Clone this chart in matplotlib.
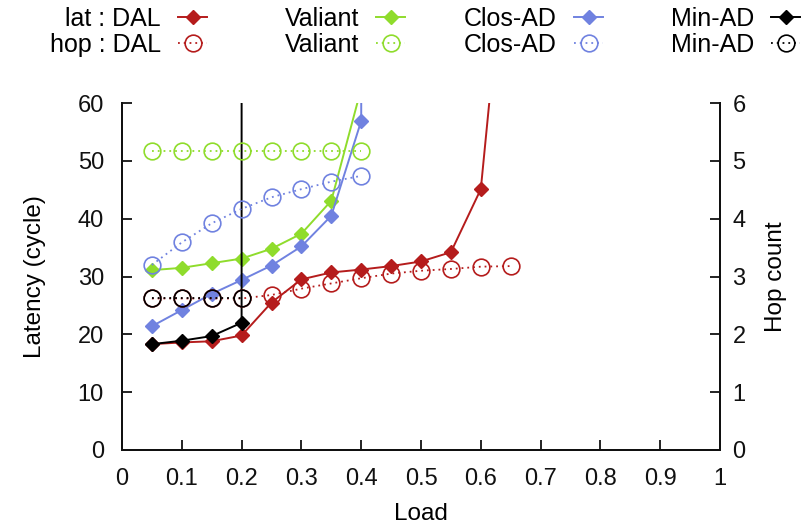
import matplotlib
matplotlib.use("Agg")
import matplotlib.pyplot as plt

plt.rcParams['font.family'] = ['Liberation Sans', 'DejaVu Sans']

# Data
load_dal = [0.05, 0.1, 0.15, 0.2, 0.25, 0.3, 0.35, 0.4, 0.45, 0.5, 0.55, 0.6, 0.65]
lat_dal = [18.3, 18.6, 18.8, 19.8, 25.5, 29.5, 30.7, 31.2, 31.8, 32.6, 34.2, 45.1, 98.0]
hop_dal = [2.62, 2.62, 2.62, 2.62, 2.68, 2.79, 2.88, 2.97, 3.05, 3.10, 3.13, 3.17, 3.18]

load_val = [0.05, 0.1, 0.15, 0.2, 0.25, 0.3, 0.35, 0.4]
lat_val = [31.1, 31.5, 32.3, 33.1, 34.8, 37.4, 43.1, 62.5]
hop_val = [5.17, 5.17, 5.17, 5.17, 5.17, 5.17, 5.17, 5.17]

load_clos = [0.05, 0.1, 0.15, 0.2, 0.25, 0.3, 0.35, 0.4, 0.45]
lat_clos = [21.4, 24.2, 27.0, 29.4, 31.9, 35.2, 40.5, 56.9, 3000.0]
load_clos_hop = [0.05, 0.1, 0.15, 0.2, 0.25, 0.3, 0.35, 0.4]
hop_clos = [3.20, 3.59, 3.92, 4.17, 4.37, 4.51, 4.64, 4.74]

load_min = [0.05, 0.1, 0.15, 0.2, 0.25]
lat_min = [18.3, 18.9, 19.7, 22.0, 100000.0]
load_min_hop = [0.05, 0.1, 0.15, 0.2]
hop_min = [2.62, 2.62, 2.62, 2.62]

xticks = [0, 0.1, 0.2, 0.3, 0.4, 0.5, 0.6, 0.7, 0.8, 0.9, 1]
xticklabels = ['0', '0.1', '0.2', '0.3', '0.4', '0.5', '0.6', '0.7', '0.8', '0.9', '1']
yticks_lat = [0, 10, 20, 30, 40, 50, 60]
yticks_hop = [0, 1, 2, 3, 4, 5, 6]

c_dal = '#b51c1c'
c_val = '#8fdc2c'
c_clos = '#7082e0'
c_min = '#000000'

FS = 17
LFS = 18
fig = plt.figure(figsize=(8.05, 5.27), dpi=100)
ax = fig.add_axes([122/805, 77/527, 598/805, 347/527])
ax2 = ax.twinx()

dot = (0, (1, 2.2))
dms = 7.5
cms = 12

l1, = ax.plot(load_dal, lat_dal, '-', color=c_dal, marker='D', ms=dms, lw=1.4, label='lat : DAL')
l3, = ax.plot(load_val, lat_val, '-', color=c_val, marker='D', ms=dms, lw=1.4, label='Valiant')
l5, = ax.plot(load_clos, lat_clos, '-', color=c_clos, marker='D', ms=dms, lw=1.4, label='Clos-AD')
l7, = ax.plot(load_min, lat_min, '-', color=c_min, marker='D', ms=dms, lw=1.4, label='Min-AD')

l2, = ax2.plot(load_dal, hop_dal, linestyle=dot, color=c_dal, marker='o', ms=cms, mfc='none', mew=1.2, lw=1.3, label='hop : DAL')
l4, = ax2.plot(load_val, hop_val, linestyle=dot, color=c_val, marker='o', ms=cms, mfc='none', mew=1.2, lw=1.3, label='Valiant')
l6, = ax2.plot(load_clos_hop, hop_clos, linestyle=dot, color=c_clos, marker='o', ms=cms, mfc='none', mew=1.2, lw=1.3, label='Clos-AD')
l8, = ax2.plot(load_min_hop, hop_min, linestyle=dot, color=c_min, marker='o', ms=cms, mfc='none', mew=1.2, lw=1.3, label='Min-AD')

ax.set_xlim(0, 1)
ax.set_ylim(0, 60)
ax2.set_ylim(0, 6)
ax.set_xticks(xticks)
ax.set_xticklabels(xticklabels)
ax.set_yticks(yticks_lat)
ax2.set_yticks(yticks_hop)

for a in (ax, ax2):
    a.spines['top'].set_visible(False)
    for s in a.spines.values():
        s.set_linewidth(1.4)
        s.set_color('#111111')
ax.tick_params(axis='both', direction='in', length=7.5, width=1.3, labelsize=FS, colors='#111111')
ax.tick_params(axis='y', pad=13, right=False)
ax.tick_params(axis='x', pad=13, top=False)
ax2.tick_params(axis='y', direction='in', length=7.5, width=1.3, labelsize=FS, pad=9, colors='#111111')

ax.set_xlabel('Load', fontsize=17.5, labelpad=9)
ax.set_ylabel('Latency (cycle)', fontsize=17.5, labelpad=23)
ax2.set_ylabel('Hop count', fontsize=17.5, rotation=90, labelpad=14)

# legend: one column per scheme, text right-aligned before the sample
pairs = [(l1, l2), (l3, l4), (l5, l6), (l7, l8)]
col_right = [207, 405, 603, 800]
for (ha, hb), xr in zip(pairs, col_right):
    leg = fig.legend(handles=[ha, hb], labels=[ha.get_label(), hb.get_label()], ncol=1,
                     loc='upper right', bbox_to_anchor=(xr/805, (527-7)/527), frameon=False,
                     markerfirst=False, fontsize=LFS, handlelength=1.16, handletextpad=0.68,
                     labelspacing=0.08, borderpad=0.0, borderaxespad=0)

fig.savefig('out.png', dpi=100)
